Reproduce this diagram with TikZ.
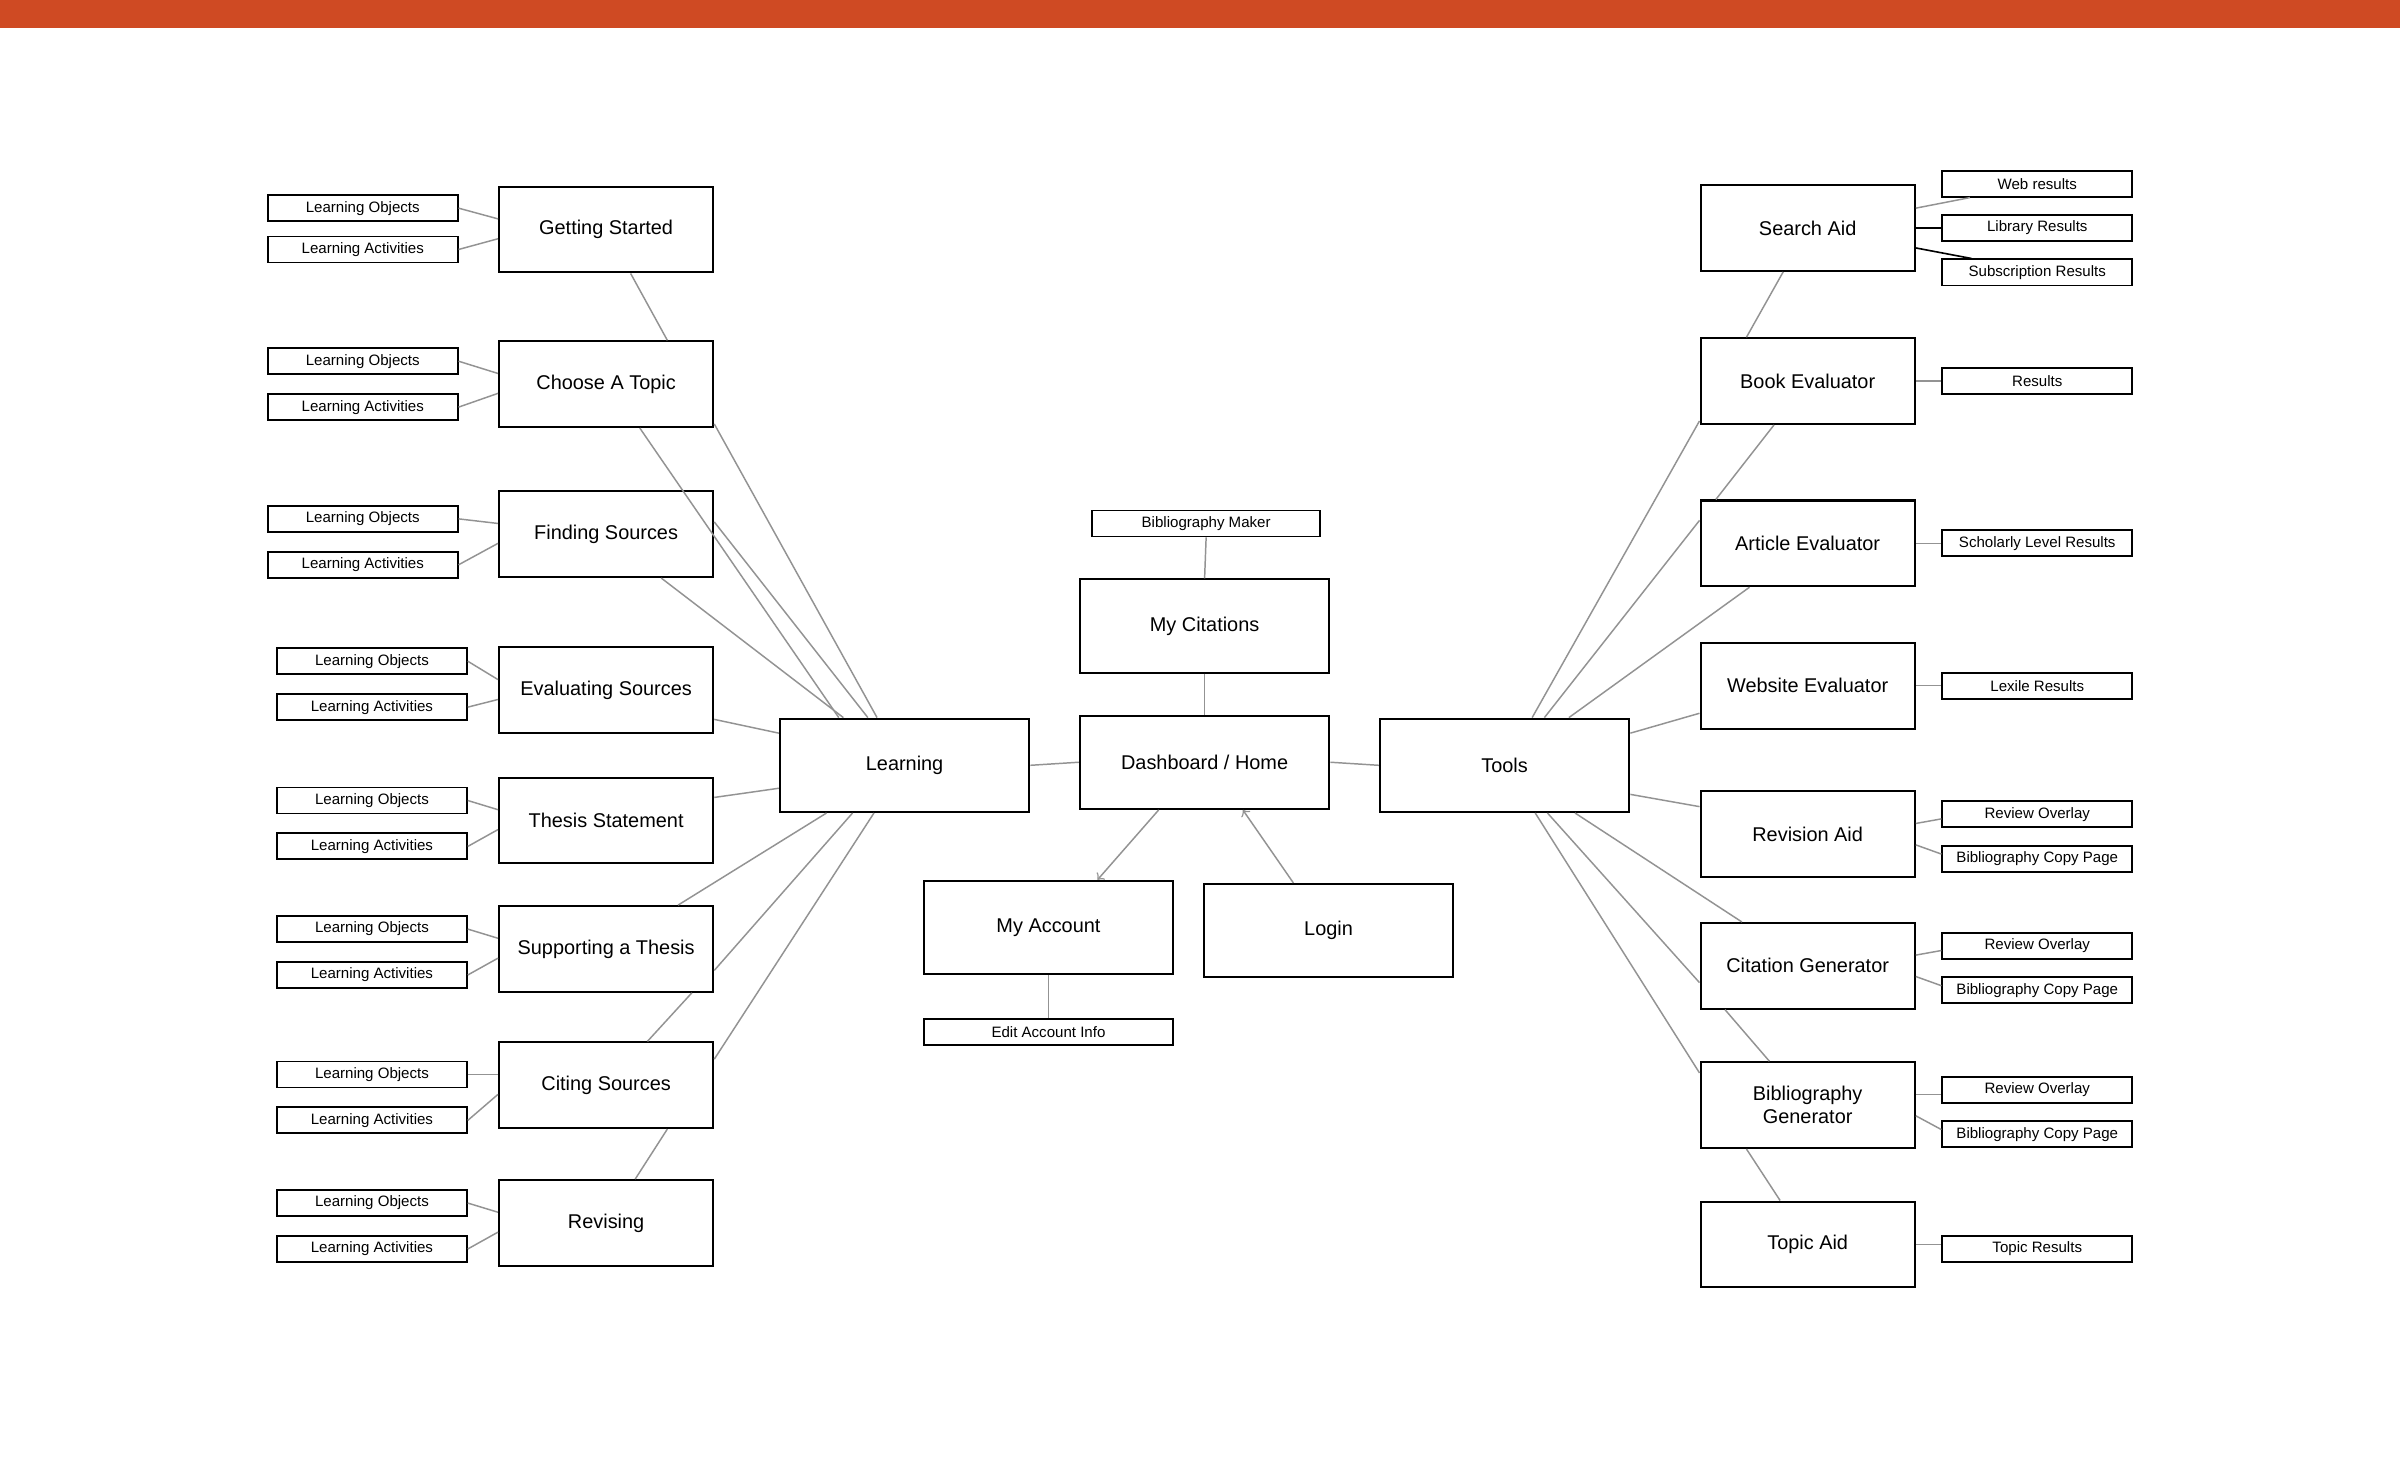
\documentclass[tikz,border=0pt]{standalone}
\usepackage{fontspec}
\setmainfont{Liberation Sans}
\usetikzlibrary{calc}
\definecolor{topbar}{HTML}{CF4A23}
\begin{document}
\begin{tikzpicture}[x=0.2mm,y=-0.2mm,
  big/.style={draw=black,line width=0.75pt,minimum width=28mm,minimum height=11.2mm,inner sep=1pt,font=\fontsize{7.4}{8.6}\selectfont,align=center},
  mid/.style={big,minimum width=32.6mm,minimum height=12.2mm},
  sm/.style={draw=black,line width=0.7pt,minimum width=24.8mm,minimum height=3.4mm,inner sep=0pt,font=\fontsize{5.6}{6.5}\selectfont},
  ln/.style={draw=gray!85,line width=0.55pt},
  dk/.style={draw=black,line width=0.6pt}]
\useasboundingbox (0,0) rectangle (1568,953);
\fill[topbar] (0,0) rectangle (1568,18);
% left column
\foreach \n/\t/\y/\sx/\a/\b in {gs/Getting Started/150/237/136/163, ct/Choose A Topic/251/237/236/266, fs/Finding Sources/349/237/339/369, ev/Evaluating Sources/451/243/432/462, th/Thesis Statement/536/243/523/553, sup/Supporting a Thesis/620/243/607/637, cit/Citing Sources/709/243/702/732, rev/Revising/799/243/786/816}{
  \node[big] (\n) at (396,\y) {\t};
  \node[sm] (\n lo) at (\sx,\a) {Learning Objects};
  \node[sm] (\n la) at (\sx,\b) {Learning Activities};
  \draw[ln] (\n lo.east) -- ($(\n.west)+(0,-7)$);
  \draw[ln] (\n la.east) -- ($(\n.west)+(0,6)$);
}
% centre
\node[mid] (lrn) at (591,500) {Learning};
\node[mid] (dash) at (787,498) {Dashboard / Home};
\node[mid] (tools) at (983,500) {Tools};
\node[mid] (mc) at (787,409) {My Citations};
\node[sm,minimum width=29.8mm] (bm) at (788,342) {Bibliography Maker};
\node[mid] (acc) at (685,606) {My Account};
\node[sm,minimum width=32.6mm] (edit) at (685,674) {Edit Account Info};
\node[mid] (login) at (868,608) {Login};
% right column
\node[big] (sa) at (1181,149) {Search Aid};
\node[big] (be) at (1181,249) {Book Evaluator};
\node[big] (ae) at (1181,355) {Article Evaluator};
\node[big] (we) at (1181,448) {Website Evaluator};
\node[big] (ra) at (1181,545) {Revision Aid};
\node[big] (cg) at (1181,631) {Citation Generator};
\node[big] (bg) at (1181,722) {Bibliography\\Generator};
\node[big] (ta) at (1181,813) {Topic Aid};
\node[sm] (web) at (1331,120) {Web results};
\node[sm] (lib) at (1331,149) {Library Results};
\node[sm] (sub) at (1331,178) {Subscription Results};
\node[sm] (res) at (1331,249) {Results};
\node[sm] (sch) at (1331,355) {Scholarly Level Results};
\node[sm] (lex) at (1331,448) {Lexile Results};
\node[sm] (ro1) at (1331,532) {Review Overlay};
\node[sm] (bc1) at (1331,561) {Bibliography Copy Page};
\node[sm] (ro2) at (1331,618) {Review Overlay};
\node[sm] (bc2) at (1331,647) {Bibliography Copy Page};
\node[sm] (ro3) at (1331,712) {Review Overlay};
\node[sm] (bc3) at (1331,741) {Bibliography Copy Page};
\node[sm] (tr) at (1331,816) {Topic Results};
% left connectors
\draw[ln] ($(gs.south)+(16,0)$) -- ($(ct.north)+(40,0)$);
\draw[ln] ($(ct.south)+(22,0)$) -- ($(lrn.north)+(-43,0)$);
\draw[ln] ($(ct.east)+(0,26)$) -- ($(lrn.north)+(-18,0)$);
\draw[ln] ($(fs.east)+(0,-8)$) -- ($(lrn.north)+(-24,0)$);
\draw[ln] ($(fs.south)+(36,0)$) -- ($(lrn.north)+(-40,0)$);
\draw[ln] ($(ev.east)+(0,19)$) -- ($(lrn.west)+(0,-21)$);
\draw[ln] ($(th.east)+(0,-15)$) -- ($(lrn.west)+(0,15)$);
\draw[ln] ($(sup.north)+(47,0)$) -- ($(lrn.south)+(-51,0)$);
\draw[ln] ($(sup.east)+(0,14)$) -- ($(lrn.south)+(-34,0)$);
\draw[ln] ($(cit.north)+(27,0)$) -- ($(sup.south)+(56,0)$);
\draw[ln] ($(cit.east)+(0,-17)$) -- ($(lrn.south)+(-20,0)$);
\draw[ln] ($(rev.north)+(19,0)$) -- ($(cit.south)+(40,0)$);
% centre connectors
\draw[ln] (lrn.east) -- (dash.west);
\draw[ln] (tools.west) -- (dash.east);
\draw[ln] (mc.south) -- (dash.north);
\draw[ln] (bm.south) -- (mc.north);
\draw[ln] (acc.south) -- (edit.north);
\draw[ln,->] ($(dash.south)+(-30,0)$) -- ($(acc.north)+(32,0)$);
\draw[ln,->] ($(login.north)+(-23,0)$) -- ($(dash.south)+(25,0)$);
% right connectors
\draw[ln] ($(sa.south)+(-16,0)$) -- ($(be.north)+(-40,0)$);
\draw[ln] ($(be.west)+(0,26)$) -- ($(tools.north)+(18,0)$);
\draw[ln] ($(be.south)+(-22,0)$) -- ($(ae.north)+(-60,0)$);
\draw[ln] ($(ae.west)+(0,-15)$) -- ($(tools.north)+(26,0)$);
\draw[ln] ($(ae.south)+(-38,0)$) -- ($(tools.north)+(42,0)$);
\draw[ln] ($(we.west)+(0,18)$) -- ($(tools.east)+(0,-21)$);
\draw[ln] ($(ra.west)+(0,-18)$) -- ($(tools.east)+(0,19)$);
\draw[ln] ($(cg.north)+(-43,0)$) -- ($(tools.south)+(46,0)$);
\draw[ln] ($(cg.west)+(0,11)$) -- ($(tools.south)+(28,0)$);
\draw[ln] ($(bg.west)+(0,-21)$) -- ($(tools.south)+(20,0)$);
\draw[ln] ($(cg.south)+(-54,0)$) -- ($(bg.north)+(-25,0)$);
\draw[ln] ($(bg.south)+(-40,0)$) -- ($(ta.north)+(-18,0)$);
\draw[ln] ($(sa.east)+(0,-13)$) -- ($(web.south)+(-44,0)$);
\draw[dk] (sa.east) -- (lib.west);
\draw[dk] ($(sa.east)+(0,13)$) -- ($(sub.north)+(-43,0)$);
\draw[ln] (be.east) -- (res.west);
\draw[ln] (ae.east) -- (sch.west);
\draw[ln] (we.east) -- (lex.west);
\draw[ln] ($(ra.east)+(0,-7)$) -- ($(ro1.west)+(0,3)$);
\draw[ln] ($(ra.east)+(0,7)$) -- ($(bc1.west)+(0,-3)$);
\draw[ln] ($(cg.east)+(0,-7)$) -- ($(ro2.west)+(0,3)$);
\draw[ln] ($(cg.east)+(0,7)$) -- ($(bc2.west)+(0,-3)$);
\draw[ln] ($(bg.east)+(0,-7)$) -- ($(ro3.west)+(0,3)$);
\draw[ln] ($(bg.east)+(0,7)$) -- ($(bc3.west)+(0,-3)$);
\draw[ln] ($(ta.east)+(0,0)$) -- ($(tr.west)+(0,-3)$);
\end{tikzpicture}
\end{document}
